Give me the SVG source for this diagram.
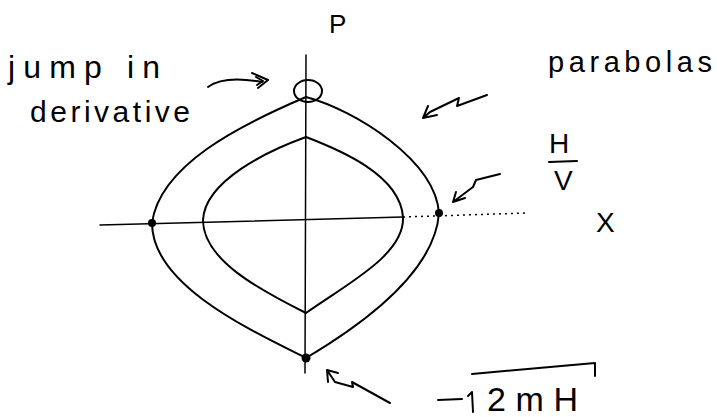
<svg xmlns="http://www.w3.org/2000/svg" width="717" height="417" viewBox="0 0 717 417">
<style>
.ln{fill:none;stroke:#000;stroke-width:2;stroke-linecap:round;stroke-linejoin:round}
.thin{fill:none;stroke:#000;stroke-width:1.5;stroke-linecap:round}
.dot{fill:none;stroke:#000;stroke-width:1.5;stroke-dasharray:2 4}
.t{font-family:"Liberation Sans",Arial,sans-serif;fill:#000}
</style>
<rect width="717" height="417" fill="#fff"/>
<g id="axes">
<path class="thin" d="M306,55 L305,373"/>
<path class="thin" d="M100,225 L403,217"/>
<path class="dot" d="M403,217 L527,213"/>
</g>
<g id="outer-curve">
<path class="ln" d="M306,97 C355,110 435,160 439,213 C435,270 370,320 306,358 C250,330 152,285 152,223 C160,165 240,125 306,97"/>
<circle cx="152" cy="223" r="4" fill="#000"/>
<circle cx="439" cy="213" r="4" fill="#000"/>
<circle cx="306" cy="358" r="4.5" fill="#000"/>
<ellipse cx="308" cy="91" rx="14" ry="11" class="ln"/>
</g>
<g id="inner-curve">
<path class="ln" d="M306,137 C340,150 400,175 403,217 C405,255 345,285 306,313 C260,290 203,260 203,220 C205,180 270,150 306,137"/>
</g>
<g id="labels">
<text class="t" x="329" y="33" font-size="26">P</text>
<text class="t" x="549" y="153" font-size="28">H</text>
<path class="ln" d="M549,162 L577,161"/>
<text class="t" x="554" y="190" font-size="28">V</text>
<text class="t" x="596" y="232" font-size="28">X</text>
<text class="t" x="8" y="78" font-size="32" textLength="152" lengthAdjust="spacing">jump in</text>
<text class="t" x="30" y="122" font-size="30" textLength="160" lengthAdjust="spacing">derivative</text>
<text class="t" x="548" y="72" font-size="29" textLength="164" lengthAdjust="spacing">parabolas</text>
<path class="ln" d="M438,400 L462,399"/>
<path class="ln" d="M468,396 L472,392 L473,412 M472,374 L595,363 L595,376"/>
<text class="t" x="487" y="411" font-size="34" textLength="91" lengthAdjust="spacing">2mH</text>
</g>
<g id="connectors">
<path class="ln" d="M208,87 C220,78 240,78 262,82"/>
<path class="ln" d="M252,73 L268,80 L258,88 M256,77 L263,81 L257,85"/>
<path class="ln" d="M487,95 L457,106 L459,98 L430,112 L423,118 M423,118 L428,106 M423,118 L437,115"/>
<path class="ln" d="M500,174 L476,180 L473,187 L453,202 M453,202 L456,192 M453,202 L465,198"/>
<path class="ln" d="M327,370 L335,382 L353,387 L352,382 L390,403 M327,370 L328,382 M327,370 L338,373"/>
</g>
</svg>
